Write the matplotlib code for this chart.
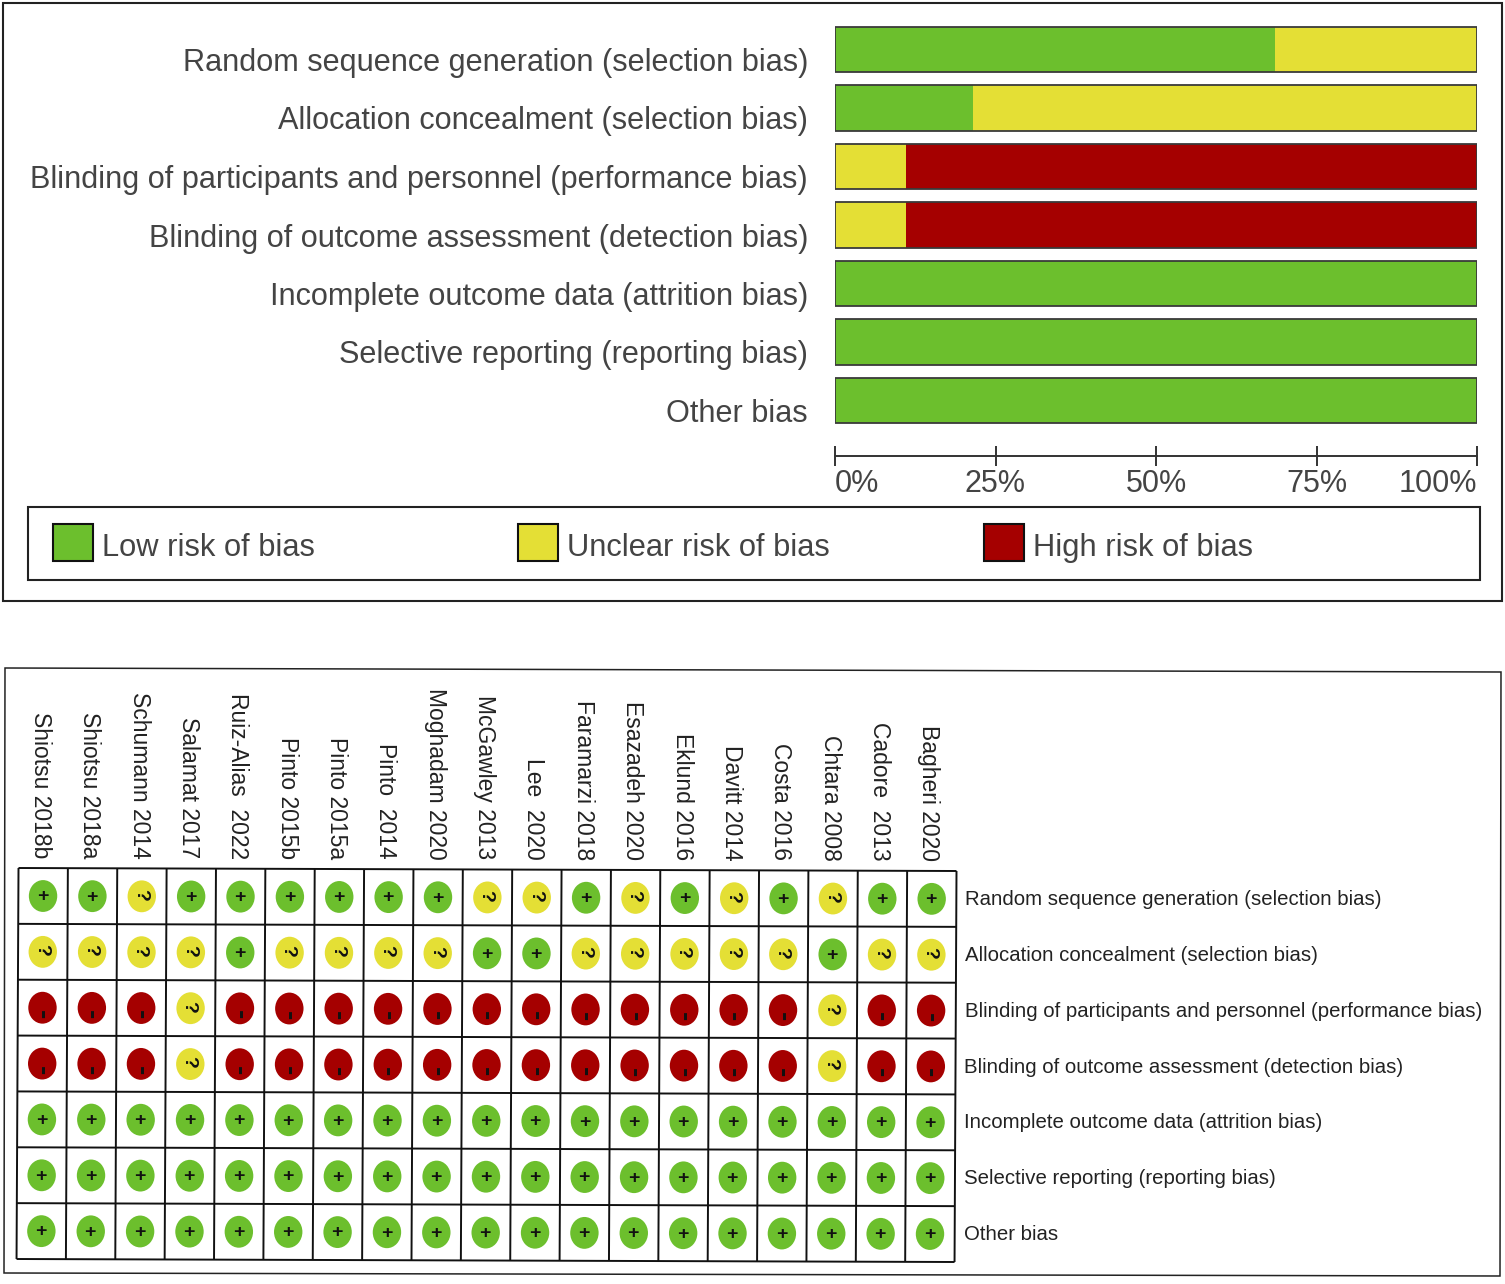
import matplotlib
matplotlib.use("Agg")
import matplotlib.pyplot as plt
from matplotlib.patches import Rectangle, Ellipse, Polygon
from matplotlib.transforms import Affine2D

plt.rcParams['font.family'] = ['Liberation Sans', 'DejaVu Sans']

domains = ["Random sequence generation (selection bias)",
           "Allocation concealment (selection bias)",
           "Blinding of participants and personnel (performance bias)",
           "Blinding of outcome assessment (detection bias)",
           "Incomplete outcome data (attrition bias)",
           "Selective reporting (reporting bias)",
           "Other bias"]
low_pct = [68.6, 21.5, 0, 0, 100, 100, 100]
unclear_pct = [31.4, 78.5, 11, 11, 0, 0, 0]
high_pct = [0, 0, 89, 89, 0, 0, 0]
pct_ticks = [0, 25, 50, 75, 100]
studies = ["Shiotsu 2018b", "Shiotsu 2018a", "Schumann 2014", "Salamat 2017", "Ruiz-Alias  2022",
           "Pinto 2015b", "Pinto 2015a", "Pinto  2014", "Moghadam 2020", "McGawley 2013",
           "Lee  2020", "Faramarzi 2018", "Esazadeh 2020", "Eklund 2016", "Davitt 2014",
           "Costa 2016", "Chtara 2008", "Cadore  2013", "Bagheri 2020"]
ratings = ["++?++++++??+?+?+?++",
           "????+????++?????+??",
           "---?------------?--",
           "---?------------?--",
           "+++++++++++++++++++",
           "+++++++++++++++++++",
           "+++++++++++++++++++"]
legend_labels = ["Low risk of bias", "Unclear risk of bias", "High risk of bias"]

GREEN, YELLOW, RED = "#6CBF2D", "#E4DF35", "#A50000"
W, H = 1505, 1284
fig = plt.figure(figsize=(W / 100, H / 100), dpi=100, facecolor="white")


def px_axes(l, t, r, b, **kw):
    return fig.add_axes([l / W, 1 - b / H, (r - l) / W, (b - t) / H], **kw)


# overlay in pixel coordinates for frames and the legend
bg = px_axes(0, 0, W, H)
bg.set_xlim(0, W)
bg.set_ylim(H, 0)
bg.axis("off")
LW = 1.5
bg.add_patch(Rectangle((3, 3), 1499, 598, fill=False, ec="#222222", lw=LW))
bg.add_patch(Polygon([(5, 668), (1501, 672), (1500, 1276), (4, 1273)], closed=True, fill=False, ec="#222222", lw=1.1))
bg.add_patch(Rectangle((28, 507), 1452, 73, fill=False, ec="#222222", lw=LW))
for x0, c, lab in zip([53, 518, 984], [GREEN, YELLOW, RED], legend_labels):
    bg.add_patch(Rectangle((x0, 524), 40, 37, fc=c, ec="#111111", lw=LW))
    bg.text(x0 + 49, 548, lab, fontsize=22.2, color="#444444", va="center", ha="left")

# stacked bar panel
ax = px_axes(835, 20.25, 1477, 429.75)
ax.set_xlim(0, 100)
ax.set_ylim(6.5, -0.5)
ax.patch.set_alpha(0)
ypos = list(range(len(domains)))
left2 = [a + b for a, b in zip(low_pct, unclear_pct)]
for vals, lefts, col in [(low_pct, [0] * 7, GREEN),
                         (unclear_pct, low_pct, YELLOW),
                         (high_pct, left2, RED)]:
    ax.barh(ypos, vals, left=lefts, height=0.77, color=col, edgecolor="none")
for y in ypos:
    ax.add_patch(Rectangle((0, y - 0.385), 100, 0.77, fill=False, ec="#3A3A3A", lw=1.3, zorder=4))
for s in ["top", "left", "right"]:
    ax.spines[s].set_visible(False)
ax.spines["bottom"].set_position(("outward", 26 * 0.72))
ax.spines["bottom"].set_linewidth(1.4)
ax.spines["bottom"].set_color("#333333")
ax.set_xticks(pct_ticks)
ax.set_xticklabels([f"{v}%" for v in pct_ticks], fontsize=22, color="#444444")
ax.tick_params(axis="x", direction="inout", length=14.5, width=1.4, color="#333333", pad=2.5)
for t, ha in zip(ax.get_xticklabels(), ["left", "center", "center", "center", "right"]):
    t.set_ha(ha)
ax.set_yticks([])
for y, d in zip(ypos, domains):
    ax.annotate(d, (0, y), xytext=(-27 * 0.72, -13.5 * 0.72), textcoords="offset points",
                ha="right", va="center", fontsize=22.1, color="#444444", annotation_clip=False)

# rating grid, drawn on a slightly tilted plane as in the scan
g = px_axes(18.5, 868, 956.5, 1259)
n_c, n_r = len(studies), len(domains)
g.set_xlim(0, n_c)
g.set_ylim(n_r, 0)
g.axis("off")
px, py = 18.5, H - 868
shear = Affine2D().translate(-px, -py) + Affine2D.from_values(1, -0.0032, 0.005, 1, 0, 0) + Affine2D().translate(px, py)
tr = g.transData + shear
g.vlines(range(n_c + 1), 0, n_r, colors="#111111", lw=1.4, transform=tr, clip_on=False)
g.hlines(range(n_r + 1), 0, n_c, colors="#111111", lw=1.4, transform=tr, clip_on=False)
colors = {"+": GREEN, "?": YELLOW, "-": RED}
for r, row in enumerate(ratings):
    for c, sym in enumerate(row):
        cx, cy = c + 0.5, r + 0.5
        g.add_patch(Ellipse((cx, cy), 0.575, 0.57, fc=colors[sym], ec="none", transform=tr, clip_on=False))
        if sym == "+":
            g.text(cx - 0.01, cy + 0.015, "+", transform=tr, ha="center", va="center", fontsize=14, fontweight="bold", color="#111111")
        elif sym == "?":
            g.text(cx - 0.03, cy - 0.03, "?", transform=tr, ha="center", va="center", rotation=-90, fontsize=14, fontweight="bold", color="#111111")
        else:
            g.text(cx - 0.03, cy + 0.12, "-", transform=tr, ha="center", va="center", rotation=-90, fontsize=20, fontweight="bold", color="#111111")
for c, s in enumerate(studies):
    g.text(c + 0.44, -0.18, s, transform=tr, rotation=-90, ha="center", va="bottom", fontsize=16.5, color="#222222", clip_on=False)
for r, d in enumerate(domains):
    g.text(n_c + 0.18, r + 0.51, d, transform=tr, ha="left", va="center", fontsize=14.7, color="#222222", clip_on=False)

fig.savefig("out.png", dpi=100, facecolor="white")
